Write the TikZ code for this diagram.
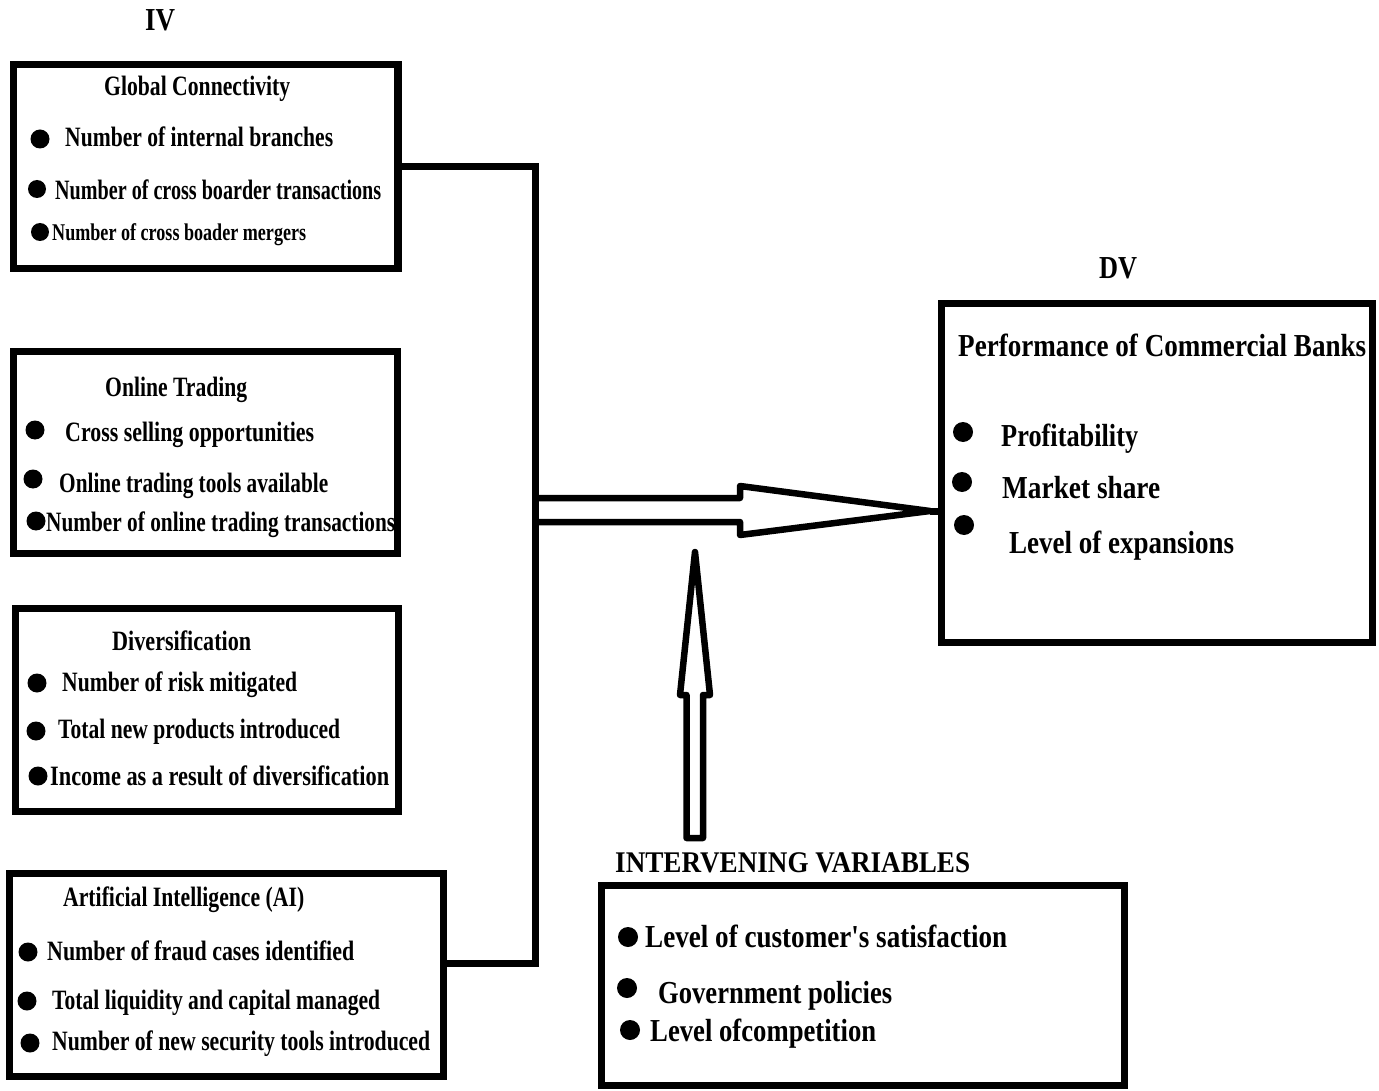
\documentclass[tikz,border=0pt]{standalone}
\usepackage{fontspec}
\setmainfont{Liberation Serif}
\newfontfamily\rawserif{Liberation Serif}
\usepackage{graphicx}
\begin{document}
\begin{tikzpicture}[x=1pt,y=-1pt,
  box/.style={draw, line width=7.5pt, rectangle, inner sep=0pt},
  conn/.style={line width=7pt},
  hollow/.style={line width=6.5pt, line join=round},
  txt/.style={anchor=base west, inner sep=0pt, font=\rawserif\bfseries\fontsize{28}{30}\selectfont},
  big/.style={anchor=base west, inner sep=0pt, font=\rawserif\bfseries\fontsize{32}{34}\selectfont},
  lbl/.style={anchor=base, inner sep=0pt, font=\rawserif\bfseries\fontsize{32}{34}\selectfont},
  dot/.style={fill=black}]
\fill[white] (0,0) rectangle (1379,1091);
\useasboundingbox (0,0) rectangle (1379,1091);

% boxes
\node[box, minimum width=384.5pt, minimum height=204pt] (gc) at (205.75,166.5) {};
\node[box, minimum width=384pt, minimum height=202pt] (ot) at (205.5,452.5) {};
\node[box, minimum width=383pt, minimum height=203pt] (dv3) at (207,710) {};
\node[box, minimum width=434pt, minimum height=203pt] (ai) at (226.5,975) {};
\node[box, minimum width=431pt, minimum height=339pt] (dv) at (1157,473) {};
\node[box, minimum width=523pt, minimum height=200pt] (iv) at (863,985.5) {};

% labels
\node[lbl] (ivl) at (160,31) {\resizebox{30pt}{\height}{IV}};
\node[lbl] (dvl) at (1118,279) {\resizebox{38pt}{\height}{DV}};
\node[anchor=base west, inner sep=0pt, font=\rawserif\bfseries\fontsize{30}{32}\selectfont] (ivt) at (615,872) {\resizebox{355pt}{\height}{INTERVENING VARIABLES}};

% Global connectivity
\node[txt] (gct) at (104,96) {\resizebox{186pt}{\height}{Global Connectivity}};
\fill[dot] (40,139) circle (9.5);
\node[txt] (gc1) at (65,147) {\resizebox{268pt}{\height}{Number of internal branches}};
\fill[dot] (37,189) circle (9);
\node[txt] (gc2) at (55,200) {\resizebox{326pt}{\height}{Number of cross boarder transactions}};
\fill[dot] (40,232) circle (9);
\node[txt, font=\rawserif\bfseries\fontsize{24}{26}\selectfont] (gc3) at (52,241) {\resizebox{254pt}{\height}{Number of cross boader mergers}};

% Online trading
\node[txt] (ott) at (105,396) {\resizebox{142pt}{\height}{Online Trading}};
\fill[dot] (35,430) circle (9.5);
\node[txt] (ot1) at (65,441) {\resizebox{249pt}{\height}{Cross selling opportunities}};
\fill[dot] (33,479) circle (9.5);
\node[txt] (ot2) at (59,492) {\resizebox{269pt}{\height}{Online trading tools available}};
\fill[dot] (36,521) circle (9.5);
\node[txt] (ot3) at (46,531) {\resizebox{349pt}{\height}{Number of online trading transactions}};

% Diversification
\node[txt] (dvt) at (112,650) {\resizebox{139pt}{\height}{Diversification}};
\fill[dot] (37,683) circle (9.5);
\node[txt] (d1) at (62,691) {\resizebox{235pt}{\height}{Number of risk mitigated}};
\fill[dot] (36,731) circle (9.5);
\node[txt] (d2) at (58,738) {\resizebox{282pt}{\height}{Total new products introduced}};
\fill[dot] (38,776) circle (9.5);
\node[txt] (d3) at (50,785) {\resizebox{339pt}{\height}{Income as a result of diversification}};

% AI
\node[txt] (ait) at (63,906) {\resizebox{241pt}{\height}{Artificial Intelligence (AI)}};
\fill[dot] (28,952) circle (9.5);
\node[txt] (a1) at (47,960) {\resizebox{307pt}{\height}{Number of fraud cases identified}};
\fill[dot] (27,1001) circle (9.5);
\node[txt] (a2) at (52,1009) {\resizebox{328pt}{\height}{Total liquidity and capital managed}};
\fill[dot] (30,1043) circle (9.5);
\node[txt] (a3) at (52,1050) {\resizebox{378pt}{\height}{Number of new security tools introduced}};

% DV contents
\node[big] (dvh) at (958,356) {\resizebox{408pt}{\height}{Performance of Commercial Banks}};
\fill[dot] (963,432) circle (10);
\node[big] (p1) at (1001,446) {\resizebox{137pt}{\height}{Profitability}};
\fill[dot] (962,482) circle (10);
\node[big] (p2) at (1002,498) {\resizebox{158pt}{\height}{Market share}};
\fill[dot] (964,525) circle (10);
\node[big] (p3) at (1009,553) {\resizebox{225pt}{\height}{Level of expansions}};

% Intervening contents
\fill[dot] (628,937) circle (10);
\node[big] (i1) at (645,947) {\resizebox{362pt}{\height}{Level of customer's satisfaction}};
\fill[dot] (627,988) circle (10);
\node[big] (i2) at (658,1003) {\resizebox{234pt}{\height}{Government policies}};
\fill[dot] (630,1030) circle (10);
\node[big] (i3) at (650,1041) {\resizebox{226pt}{\height}{Level ofcompetition}};

% bracket connector
\coordinate (bb) at (535,963);
\draw[conn] (gc.east) -| (bb) -- (ai.east |- bb);

% big horizontal arrow
\coordinate (tip) at (930,511);
\draw[hollow] (535,498) -- (740,498) -- (740,486) -- (tip) -- (740,535) -- (740,522) -- (535,522);
\draw[conn] (tip) -- (dv.west |- tip);

% vertical arrow
\draw[hollow] (686.5,838) -- (686.5,695) -- (680,695) -- (695,552) -- (710,695) -- (703,695) -- (703,838) -- cycle;
\end{tikzpicture}
\end{document}
